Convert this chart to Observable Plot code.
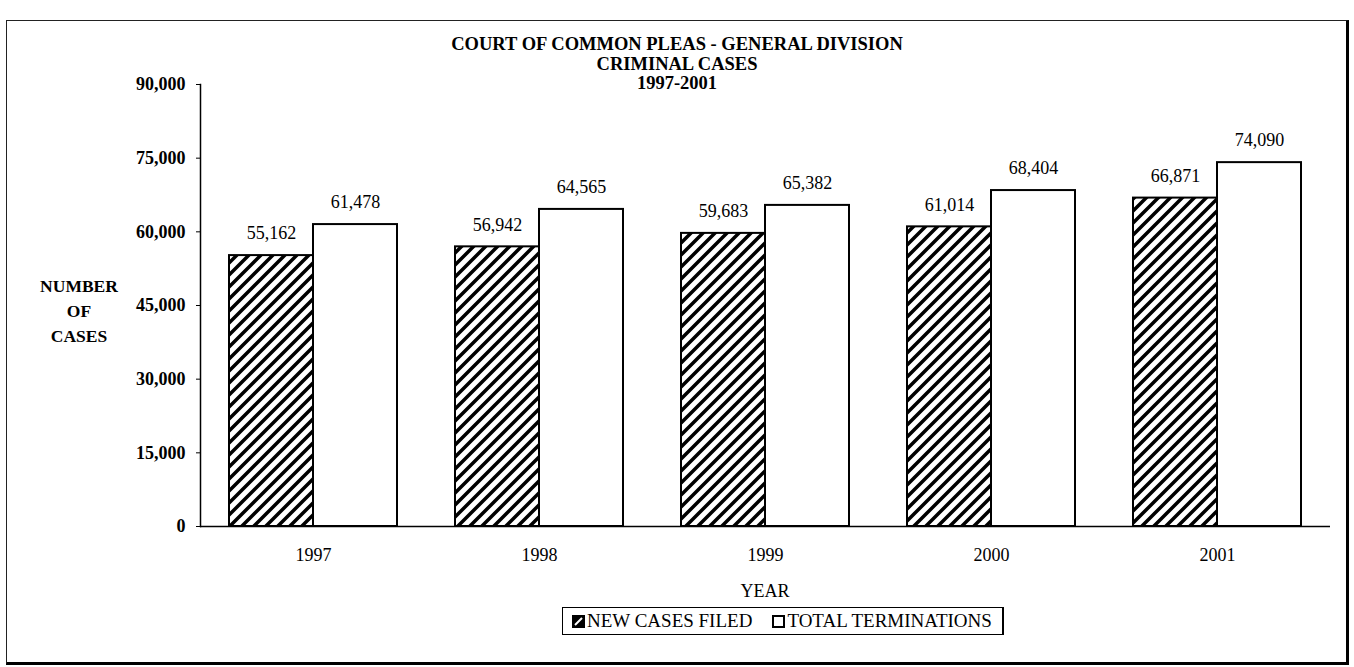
<!DOCTYPE html>
<html>
<head>
<meta charset="utf-8">
<script src="https://cdn.jsdelivr.net/npm/d3@7"></script>
<script src="https://cdn.jsdelivr.net/npm/@observablehq/plot@0.6"></script>
<style>
  html, body { margin: 0; padding: 0; background: #fff; }
  #wrap { position: relative; width: 1354px; height: 667px; overflow: hidden; font-family: "Liberation Serif", "Times New Roman", serif; color: #000; }
  #chart { position: absolute; left: 0; top: 0; }
  .abs { position: absolute; }
  #title { left: 0; width: 1354px; top: 35px; text-align: center; font-weight: bold; font-size: 18.5px; line-height: 19.5px; }
  #ylabel { left: 19px; width: 120px; top: 274px; text-align: center; font-size: 17.5px; font-weight: bold; line-height: 25px; }
  #xlabel { left: 200px; width: 1130px; top: 579px; text-align: center; font-size: 18px; line-height: 25px; }
  #legend { left: 562px; top: 607px; width: 442px; height: 28px; box-sizing: border-box; border: 1px solid #000; border-right-width: 2px; display: flex; align-items: center; font-size: 19px; padding-left: 9px; white-space: nowrap; }
  #legend .sw { display: inline-block; width: 13px; height: 13px; box-sizing: border-box; margin-right: 2px; }
  #frame { left: 6px; top: 20px; width: 1343px; height: 645px; box-sizing: border-box; border-left: 1px solid #222; border-top: 1px solid #222; border-right: 3px solid #000; border-bottom: 3px solid #000; pointer-events: none; }
</style>
</head>
<body>
<div id="wrap">
  <div id="chart"></div>
  <div id="title" class="abs"></div>
  <div id="ylabel" class="abs"></div>
  <div id="xlabel" class="abs"></div>
  <div id="legend" class="abs"></div>
  <div id="frame" class="abs"></div>
</div>
<script>
// ---- Data ----
const years = ["1997", "1998", "1999", "2000", "2001"];
const newCases = [55162, 56942, 59683, 61014, 66871];
const terminations = [61478, 64565, 65382, 68404, 74090];
const yTicks = [0, 15000, 30000, 45000, 60000, 75000, 90000];
const seriesNames = ["NEW CASES FILED", "TOTAL TERMINATIONS"];
const titleLines = ["COURT OF COMMON PLEAS - GENERAL DIVISION", "CRIMINAL CASES", "1997-2001"];
const yLabelLines = ["NUMBER", "OF", "CASES"];
const xLabel = "YEAR";

// ---- Build ----
const rows = years.map((year, i) => ({year, newCases: newCases[i], terminations: terminations[i]}));
const fmt = d3.format(",");
const FONT = "'Liberation Serif', 'Times New Roman', serif";

const common = {
  width: 1354,
  height: 667,
  marginLeft: 200,
  marginRight: 24,
  marginTop: 84,
  marginBottom: 141,
  x: {domain: years, paddingInner: 0.257, paddingOuter: 0.128, align: 0.5},
  y: {domain: [0, 90000]},
  style: {fontFamily: FONT, fontSize: "18px", color: "#000", background: "transparent", overflow: "visible"}
};

// probe plot to read the band width from the library's x scale
const probe = Plot.plot({...common, marks: [Plot.barY(rows, {x: "year", y: "terminations"})]});
const bw = probe.scale("x").bandwidth;

const chart = Plot.plot({
  ...common,
  marks: [
    Plot.barY(rows, {x: "year", y: "newCases", insetRight: bw / 2, fill: "url(#hatch)", stroke: "#000", strokeWidth: 2}),
    Plot.barY(rows, {x: "year", y: "terminations", insetLeft: bw / 2, fill: "#fff", stroke: "#000", strokeWidth: 2}),
    Plot.ruleY([0], {stroke: "#000", strokeWidth: 1.5}),
    Plot.frame({anchor: "left", stroke: "#000", strokeWidth: 1.5}),
    Plot.axisY({ticks: yTicks, tickFormat: fmt, tickSize: 4, tickPadding: 11, label: null, fontSize: 18, fontWeight: "bold", stroke: "#000"}),
    Plot.axisX({tickSize: 0, tickPadding: 22, label: null, fontSize: 18}),
    Plot.text(rows, {x: "year", y: "newCases", text: d => fmt(d.newCases), dx: -bw / 4, dy: -22, lineAnchor: "middle", fontSize: 18, fill: "#000"}),
    Plot.text(rows, {x: "year", y: "terminations", text: d => fmt(d.terminations), dx: bw / 4, dy: -22, lineAnchor: "middle", fontSize: 18, fill: "#000"})
  ]
});

chart.insertAdjacentHTML("afterbegin",
  '<defs><pattern id="hatch" patternUnits="userSpaceOnUse" width="12" height="12">' +
  '<rect width="12" height="12" fill="#fff"/>' +
  '<path d="M-3,3 L3,-3 M0,12 L12,0 M9,15 L15,9" stroke="#000" stroke-width="3.5"/>' +
  '</pattern></defs>');

document.getElementById("chart").appendChild(chart);

document.getElementById("title").innerHTML = titleLines.map(t => `<div>${t}</div>`).join("");
document.getElementById("ylabel").innerHTML = yLabelLines.map(t => `<div>${t}</div>`).join("");
document.getElementById("xlabel").textContent = xLabel;

const hatchSwatch = '<svg class="sw" viewBox="0 0 13 13" width="13" height="13"><rect x="0.5" y="0.5" width="12" height="12" fill="#000" stroke="#000"/><line x1="3" y1="10" x2="10" y2="3" stroke="#fff" stroke-width="2"/></svg>';
const whiteSwatch = '<span class="sw" style="border:2px solid #000;background:#fff"></span>';
document.getElementById("legend").innerHTML =
  `${hatchSwatch}<span>${seriesNames[0]}</span><span style="display:inline-block;width:20px"></span>${whiteSwatch}<span>${seriesNames[1]}</span>`;
</script>
</body>
</html>
